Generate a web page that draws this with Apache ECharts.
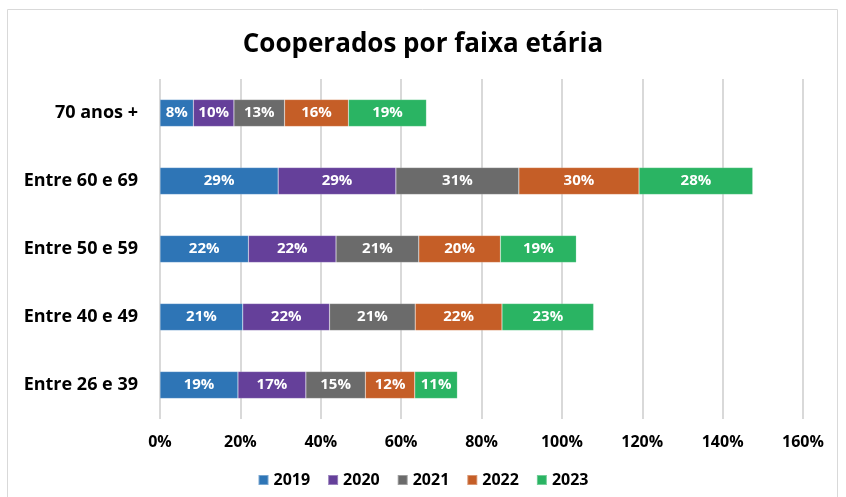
<!DOCTYPE html>
<html>
<head>
<meta charset="utf-8">
<script src="https://cdn.jsdelivr.net/npm/echarts@6/dist/echarts.min.js"></script>
<style>
  html, body { margin: 0; padding: 0; background: #fff; }
  #chart { width: 846px; height: 497px; }
</style>
</head>
<body>
<div id="chart"></div>
<script>
// categories, bottom to top
const faixas = ['Entre 26 e 39', 'Entre 40 e 49', 'Entre 50 e 59', 'Entre 60 e 69', '70 anos +']
const anos = ['2019', '2020', '2021', '2022', '2023']
const v2019 = [19.4, 20.6, 22.0, 29.4, 8.3]
const v2020 = [16.9, 21.6, 21.8, 29.3, 10.1]
const v2021 = [14.8, 21.3, 20.6, 30.6, 12.6]
const v2022 = [12.3, 21.6, 20.3, 29.9, 15.9]
const v2023 = [10.6, 22.8, 18.9, 28.3, 19.4]
const xTicks = [0, 20, 40, 60, 80, 100, 120, 140, 160]

const cores = ['#2E75B6', '#65409A', '#6B6B6B', '#C55E27', '#2AB463']
const valores = [v2019, v2020, v2021, v2022, v2023]
const fonte = '"Open Sans", Lato, sans-serif'

const chart = echarts.init(document.getElementById('chart'))
chart.setOption({
  animation: false,
  textStyle: { fontFamily: fonte },
  title: {
    text: 'Cooperados por faixa etária',
    left: 'center',
    top: 27,
    textStyle: { fontSize: 26, fontWeight: 'bold', color: '#000', fontFamily: fonte }
  },
  graphic: [{
    type: 'rect',
    shape: { x: 7.5, y: 9.5, width: 830, height: 500 },
    style: { fill: 'none', stroke: '#d9d9d9', lineWidth: 1 },
    silent: true
  }],
  legend: {
    bottom: 4,
    left: 'center',
    itemWidth: 10,
    itemHeight: 10,
    itemGap: 17,
    icon: 'rect',
    textStyle: { fontSize: 16, fontWeight: 'bold', color: '#000', fontFamily: fonte }
  },
  grid: { left: 160, right: 43, top: 79, bottom: 78 },
  xAxis: {
    type: 'value',
    min: xTicks[0],
    max: xTicks[xTicks.length - 1],
    interval: 20,
    axisLine: { show: false },
    axisTick: { show: false },
    splitLine: { lineStyle: { color: '#d9d9d9', width: 2 } },
    axisLabel: {
      formatter: '{value}%',
      fontSize: 16,
      fontWeight: 'bold',
      color: '#000',
      margin: 15
    }
  },
  yAxis: {
    type: 'category',
    data: faixas,
    axisLine: { show: false },
    axisTick: { show: false },
    axisLabel: { fontSize: 18, fontWeight: 'bold', color: '#000', margin: 22 }
  },
  series: anos.map((ano, i) => ({
    name: ano,
    type: 'bar',
    stack: 'total',
    barWidth: 27,
    data: valores[i],
    itemStyle: { color: cores[i], borderColor: 'rgba(255,255,255,0.35)', borderWidth: 0.5 },
    label: {
      show: true,
      position: 'inside',
      color: '#fff',
      fontSize: 15,
      fontWeight: 'bold',
      formatter: p => Math.round(p.value) + '%'
    }
  }))
})
</script>
</body>
</html>
